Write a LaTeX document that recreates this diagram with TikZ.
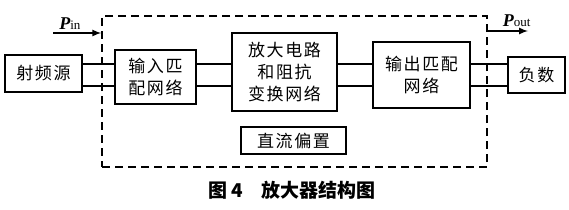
\documentclass[tikz,border=0pt]{standalone}
\usepackage{fontspec}
\newfontfamily\cjk[LetterSpace=9]{Noto Sans CJK SC}
\newfontfamily\cjkcap{Noto Sans CJK SC}
\newfontfamily\tms{Liberation Serif}
\usetikzlibrary{positioning}
\tikzset{
  blk/.style={draw, line width=2pt, inner sep=0pt, outer sep=0pt, align=center,
    font=\cjk\fontsize{17}{22}\selectfont},
  wire/.style={line width=2pt},
  flow/.style={line width=2pt, -latex},
  plabel/.style={above=3pt, inner sep=0pt, font=\tms\fontsize{18}{18}\selectfont}
}
\newcommand{\pw}[1]{{\itshape\bfseries P}{\fontsize{13}{13}\selectfont #1}}
\begin{document}
\begin{tikzpicture}[x=1pt, y=-1pt]
  \useasboundingbox (0,0) rectangle (569,209);
  % dashed amplifier frame
  \node[draw, line width=1.5pt, dash pattern=on 8pt off 5pt,
    minimum width=385pt, minimum height=151pt, inner sep=0pt] (frame) at (294.5,91.5) {};
  % blocks
  \node[blk, minimum width=77pt, minimum height=37pt] (src) at (43.5,73.5) {射频源};
  \node[blk, minimum width=81pt, minimum height=54pt] (inm) at (155.5,77) {输入匹\\配网络};
  \node[blk, minimum width=105pt, minimum height=78pt] (ampc) at (284.5,72) {放大电路\\和阻抗\\变换网络};
  \node[blk, minimum width=97pt, minimum height=66pt] (outm) at (421.5,75) {输出匹配\\网络};
  \node[blk, minimum width=57pt, minimum height=36pt] (load) at (536.5,75) {负数};
  \node[blk, minimum width=105pt, minimum height=27pt] (dc) at (293.5,140.5) {直流偏置};
  % double wires between blocks
  \foreach \a/\b in {src/inm, inm/ampc, ampc/outm, outm/load} {
    \draw[wire] (\a.east |- 0,64) -- (\b.west |- 0,64);
    \draw[wire] (\a.east |- 0,86) -- (\b.west |- 0,86);
  }
  % power arrows
  \coordinate (pinstart) at (53,33);
  \coordinate (poutend) at (528,31);
  \draw[flow] (pinstart) -- (frame.west |- pinstart) node[pos=0.35, plabel]{\pw{in}};
  \draw[flow] (frame.east |- poutend) -- (poutend) node[pos=0.72, plabel]{\pw{out}};
  % caption
  \node[font=\cjkcap\bfseries\fontsize{19}{19}\selectfont] (cap) at (292,190) {图 4\quad 放大器结构图};
\end{tikzpicture}
\end{document}
